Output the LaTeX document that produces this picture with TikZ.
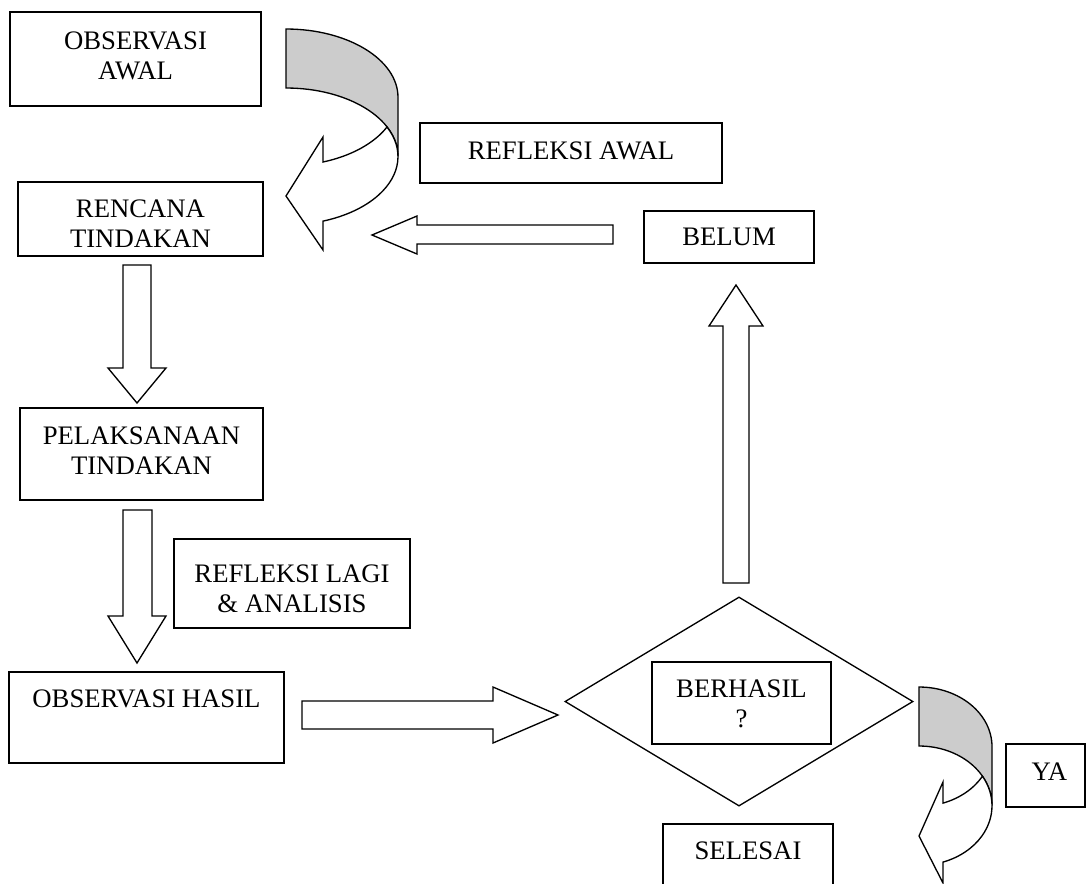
\documentclass[tikz,border=0pt]{standalone}
\usepackage{fontspec}
\setmainfont{Liberation Serif}
\usetikzlibrary{positioning, shapes.geometric}

\begin{document}
\begin{tikzpicture}[
  x=0.0158cm, y=-0.0158cm,
  every node/.style={font=\fontsize{12}{13.5}\selectfont},
  box/.style={rectangle, draw, line width=0.6pt, inner sep=0pt},
  boxtext/.style={inner sep=0pt, align=center},
  blockarrow/.style={draw, fill=white, line width=0.6pt},
  backface/.style={draw, fill=gray!40, line width=0.6pt},
]
\clip (0,0) rectangle (1087,883);

% Curved arrows
\draw[backface] (286,29) arc[start angle=-90, end angle=0, x radius=112, y radius=68.4]
  -- (398,156.4) arc[start angle=0, end angle=-90, x radius=112, y radius=68.4] -- cycle;
\draw[blockarrow] (323,162) arc[start angle=70.7, end angle=25.6, x radius=112, y radius=68.4]
  arc[start angle=-25.6, end angle=70.7, x radius=112, y radius=68.4]
  -- (323,250) -- (286,196) -- (323,137) -- cycle;

\draw[backface] (919,687) arc[start angle=-90, end angle=0, x radius=73, y radius=59.7]
  -- (992,805.7) arc[start angle=0, end angle=-90, x radius=73, y radius=59.7] -- cycle;
\draw[blockarrow] (943,803.1) arc[start angle=70.8, end angle=29.6, x radius=73, y radius=59.7]
  arc[start angle=-29.6, end angle=70.8, x radius=73, y radius=59.7]
  -- (943,883) -- (919,836) -- (943,782) -- cycle;

% Block arrows
\draw[blockarrow] (123,265) -- (151,265) -- (151,368) -- (166,368) -- (137,403) -- (108,368) -- (123,368) -- cycle;
\draw[blockarrow] (123,510) -- (152,510) -- (152,616) -- (166,616) -- (137,663) -- (108,616) -- (123,616) -- cycle;
\draw[blockarrow] (302,701) -- (493,701) -- (493,687) -- (558,715) -- (493,743) -- (493,729) -- (302,729) -- cycle;
\draw[blockarrow] (723,583) -- (723,326) -- (709,326) -- (736,285) -- (763,326) -- (749,326) -- (749,583) -- cycle;
\draw[blockarrow] (613,225) -- (417,225) -- (417,216) -- (372,235) -- (417,254) -- (417,244) -- (613,244) -- cycle;

% Boxes
\node[box, minimum width=3.966cm, minimum height=1.485cm] (obsawal) at (135.5,59) {};
\node[boxtext, below=0.311cm of obsawal.north] (obsawal-t) {OBSERVASI\\AWAL};

\node[box, minimum width=3.871cm, minimum height=1.169cm] (rencana) at (140.5,219) {};
\begin{scope}
  \clip (rencana.north west) rectangle ([yshift=0.16cm]rencana.south east);
  \node[boxtext, below=0.284cm of rencana.north] (rencana-t) {RENCANA\\TINDAKAN};
\end{scope}

\node[box, minimum width=3.839cm, minimum height=1.454cm] (pelaksanaan) at (141.5,454) {};
\node[boxtext, below=0.295cm of pelaksanaan.north] (pelaksanaan-t) {PELAKSANAAN\\TINDAKAN};

\node[box, minimum width=3.729cm, minimum height=1.406cm] (reflagi) at (292,583.5) {};
\node[boxtext, below=0.411cm of reflagi.north] (reflagi-t) {REFLEKSI LAGI\\\& ANALISIS};

\node[box, minimum width=4.345cm, minimum height=1.438cm] (obshasil) at (146.5,717.5) {};
\node[boxtext, below=0.284cm of obshasil.north] (obshasil-t) {OBSERVASI HASIL};

\node[box, minimum width=4.772cm, minimum height=0.948cm] (refawal) at (571,153) {};
\node[boxtext, below=0.295cm of refawal.north] (refawal-t) {REFLEKSI AWAL};

\node[box, minimum width=2.686cm, minimum height=0.822cm] (belum) at (729,237) {};
\node[boxtext, below=0.269cm of belum.north] (belum-t) {BELUM};

% Decision
\node[diamond, draw, line width=0.6pt, inner sep=0pt, minimum width=5.498cm, minimum height=3.302cm] (cek) at (739,701.5) {};
\node[box, minimum width=2.828cm, minimum height=1.296cm] (berhasil) at (741.5,703) {};
\node[boxtext, below=0.284cm of berhasil.north] (berhasil-t) {BERHASIL\\?};

\node[box, minimum width=2.686cm, minimum height=1.201cm] (selesai) at (748,862) {};
\node[boxtext, below=0.28cm of selesai.north] (selesai-t) {SELESAI};

\node[box, minimum width=1.248cm, minimum height=0.995cm] (ya) at (1045.5,775.5) {};
\node[boxtext, below=0.30cm of ya.north, xshift=0.06cm] (ya-t) {YA};

\end{tikzpicture}
\end{document}
